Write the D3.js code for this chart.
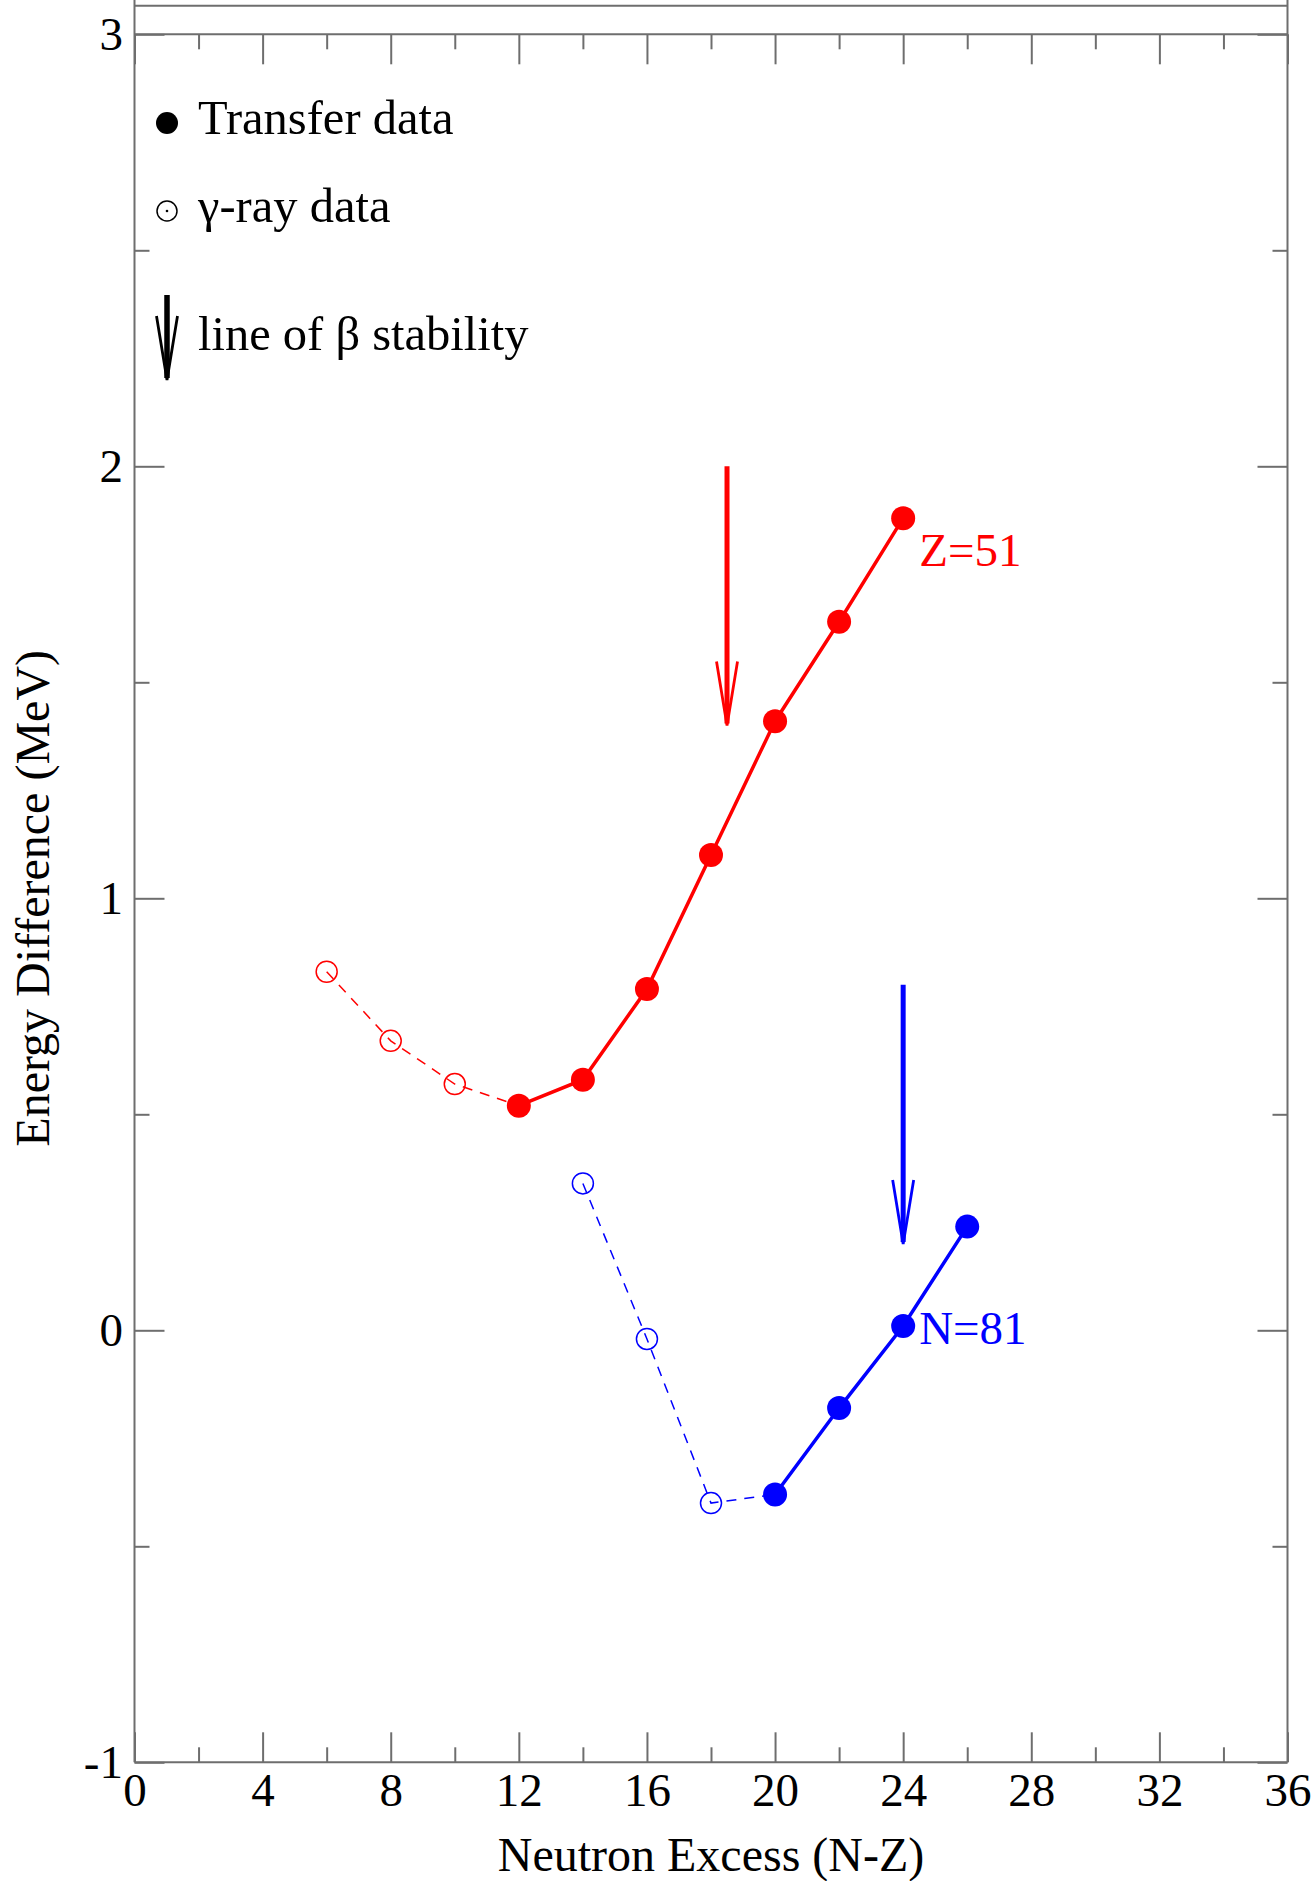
<!DOCTYPE html>
<html>
<head>
<meta charset="utf-8">
<script src="https://cdn.jsdelivr.net/npm/d3@7"></script>
<style>
  html, body { margin: 0; padding: 0; background: #fff; }
  svg { display: block; }
  text { font-family: "Liberation Serif", "Times New Roman", serif; }
</style>
</head>
<body>
<script>
// ---- data ----
const xMajorTicks = [0, 4, 8, 12, 16, 20, 24, 28, 32, 36];
const xMinorTicks = [2, 6, 10, 14, 18, 22, 26, 30, 34];
const yMajorTicks = [-1, 0, 1, 2, 3];
const yMinorTicks = [-0.5, 0.5, 1.5, 2.5];

const z51TransferX = [12, 14, 16, 18, 20, 22, 24];
const z51TransferY = [0.52, 0.58, 0.79, 1.10, 1.41, 1.64, 1.88];
const z51GammaX = [6, 8, 10];
const z51GammaY = [0.83, 0.67, 0.57];

const n81TransferX = [20, 22, 24, 26];
const n81TransferY = [-0.38, -0.18, 0.01, 0.24];
const n81GammaX = [14, 16, 18];
const n81GammaY = [0.34, -0.02, -0.40];

// line of beta stability arrows: [x, yStart, yEnd]
const z51Stability = [18.5, 2.0, 1.4];
const n81Stability = [24, 0.8, 0.2];

const seriesLabels = ["Z=51", "N=81"];
const labelPos = [[24.5, 1.77], [24.5, -0.032]];
const legendLabels = ["Transfer data", "\u03B3-ray data", "line of \u03B2 stability"];

// ---- layout ----
const W = 1316, H = 1881;
const axisColor = "#6e6e6e";
const red = "#ff0000", blue = "#0000ff";

const svg = d3.select("body").append("svg").attr("width", W).attr("height", H);

const x = d3.scaleLinear().domain([0, 36]).range([134.5, 1287.5]);
const y = d3.scaleLinear().domain([-1, 3]).range([1762.3, 34.3]);

const fontTick = 47;
const fmt = d => String(d);

// frame
const frame = svg.append("g").attr("stroke", axisColor).attr("stroke-width", 2).attr("fill", "none");
const x0 = x.range()[0], x1 = x.range()[1];
const yb = y(-1), yt = y(3);
frame.append("line").attr("x1", x0).attr("x2", x0).attr("y1", 0).attr("y2", yb);
frame.append("line").attr("x1", x1).attr("x2", x1).attr("y1", 0).attr("y2", yb);
frame.append("line").attr("x1", x0).attr("x2", x1).attr("y1", yb).attr("y2", yb);
frame.append("line").attr("x1", x0).attr("x2", x1).attr("y1", yt).attr("y2", yt);
frame.append("line").attr("x1", x0).attr("x2", x1).attr("y1", yt - 28.6).attr("y2", yt - 28.6);

function styleAxis(g) {
  g.select(".domain").remove();
  g.selectAll(".tick line").attr("stroke", axisColor).attr("stroke-width", 2);
  g.selectAll(".tick text").attr("fill", "#000")
    .style("font-family", '"Liberation Serif", "Times New Roman", serif')
    .style("font-size", fontTick + "px");
}

// bottom axis (major + labels)
svg.append("g").attr("transform", `translate(0,${yb})`)
  .call(d3.axisBottom(x).tickValues(xMajorTicks).tickSize(-30).tickPadding(10.5).tickFormat(fmt))
  .call(styleAxis);
svg.append("g").attr("transform", `translate(0,${yb})`)
  .call(d3.axisBottom(x).tickValues(xMinorTicks).tickSize(-15).tickFormat(""))
  .call(styleAxis);
// top mirror
svg.append("g").attr("transform", `translate(0,${yt})`)
  .call(d3.axisTop(x).tickValues(xMajorTicks).tickSize(-30).tickFormat(""))
  .call(styleAxis);
svg.append("g").attr("transform", `translate(0,${yt})`)
  .call(d3.axisTop(x).tickValues(xMinorTicks).tickSize(-15).tickFormat(""))
  .call(styleAxis);
// left axis
svg.append("g").attr("transform", `translate(${x0},0)`)
  .call(d3.axisLeft(y).tickValues(yMajorTicks).tickSize(-30).tickPadding(11.5).tickFormat(fmt))
  .call(styleAxis);
svg.append("g").attr("transform", `translate(${x0},0)`)
  .call(d3.axisLeft(y).tickValues(yMinorTicks).tickSize(-15).tickFormat(""))
  .call(styleAxis);
// right mirror
svg.append("g").attr("transform", `translate(${x1},0)`)
  .call(d3.axisRight(y).tickValues(yMajorTicks).tickSize(-30).tickFormat(""))
  .call(styleAxis);
svg.append("g").attr("transform", `translate(${x1},0)`)
  .call(d3.axisRight(y).tickValues(yMinorTicks).tickSize(-15).tickFormat(""))
  .call(styleAxis);

// axis titles
svg.append("text").attr("x", (x0 + x1) / 2).attr("y", 1871)
  .attr("text-anchor", "middle").style("font-size", "48px").text("Neutron Excess (N-Z)");
svg.append("text").attr("transform", `translate(49,${(yb + yt) / 2}) rotate(-90)`)
  .attr("text-anchor", "middle").style("font-size", "48px").text("Energy Difference (MeV)");

// ---- series ----
const line = d3.line().x(d => x(d[0])).y(d => y(d[1]));
const zip = (a, b) => a.map((v, i) => [v, b[i]]);

function drawSeries(gx, gy, tx, ty, color) {
  const gamma = zip(gx, gy);
  const transfer = zip(tx, ty);
  svg.append("path").datum(gamma.concat([transfer[0]]))
    .attr("d", line).attr("fill", "none").attr("stroke", color)
    .attr("stroke-width", 1.5).attr("stroke-dasharray", "10,8");
  svg.append("path").datum(transfer)
    .attr("d", line).attr("fill", "none").attr("stroke", color)
    .attr("stroke-width", 3.5);
  svg.append("g").selectAll("circle").data(gamma).join("circle")
    .attr("cx", d => x(d[0])).attr("cy", d => y(d[1])).attr("r", 10.5)
    .attr("fill", "none").attr("stroke", color).attr("stroke-width", 1.5);
  svg.append("g").selectAll("circle").data(transfer).join("circle")
    .attr("cx", d => x(d[0])).attr("cy", d => y(d[1])).attr("r", 12)
    .attr("fill", color);
}
drawSeries(z51GammaX, z51GammaY, z51TransferX, z51TransferY, red);
drawSeries(n81GammaX, n81GammaY, n81TransferX, n81TransferY, blue);

// arrows
function arrow(px, pyStart, pyEnd, color, w) {
  const g = svg.append("g").attr("stroke", color).attr("fill", "none");
  g.append("line").attr("x1", px).attr("x2", px).attr("y1", pyStart).attr("y2", pyEnd - 2)
    .attr("stroke-width", w);
  g.append("path").attr("d", `M${px - 10.5},${pyEnd - 64} L${px},${pyEnd} L${px + 10.5},${pyEnd - 64}`)
    .attr("stroke-width", 2.8).attr("stroke-linejoin", "miter");
}
arrow(x(z51Stability[0]), y(z51Stability[1]), y(z51Stability[2]), red, 5);
arrow(x(n81Stability[0]), y(n81Stability[1]), y(n81Stability[2]), blue, 5);

// series labels
svg.append("text").attr("x", x(labelPos[0][0])).attr("y", y(labelPos[0][1]))
  .attr("fill", red).style("font-size", "47px").text(seriesLabels[0]);
svg.append("text").attr("x", x(labelPos[1][0])).attr("y", y(labelPos[1][1]))
  .attr("fill", blue).style("font-size", "47px").text(seriesLabels[1]);

// ---- legend ----
const lg = svg.append("g");
lg.append("circle").attr("cx", 167).attr("cy", 123).attr("r", 11).attr("fill", "#000");
lg.append("text").attr("x", 198).attr("y", 134).style("font-size", "48.5px").text(legendLabels[0]);
lg.append("circle").attr("cx", 167).attr("cy", 211).attr("r", 10)
  .attr("fill", "none").attr("stroke", "#000").attr("stroke-width", 1.5);
lg.append("circle").attr("cx", 167).attr("cy", 211).attr("r", 1.3).attr("fill", "#000");
lg.append("text").attr("x", 198).attr("y", 221.7).style("font-size", "48.5px").text(legendLabels[1]);
arrow(167, 295, 380, "#000", 5.5);
lg.append("text").attr("x", 198).attr("y", 350).style("font-size", "48.5px").text(legendLabels[2]);
</script>
</body>
</html>
